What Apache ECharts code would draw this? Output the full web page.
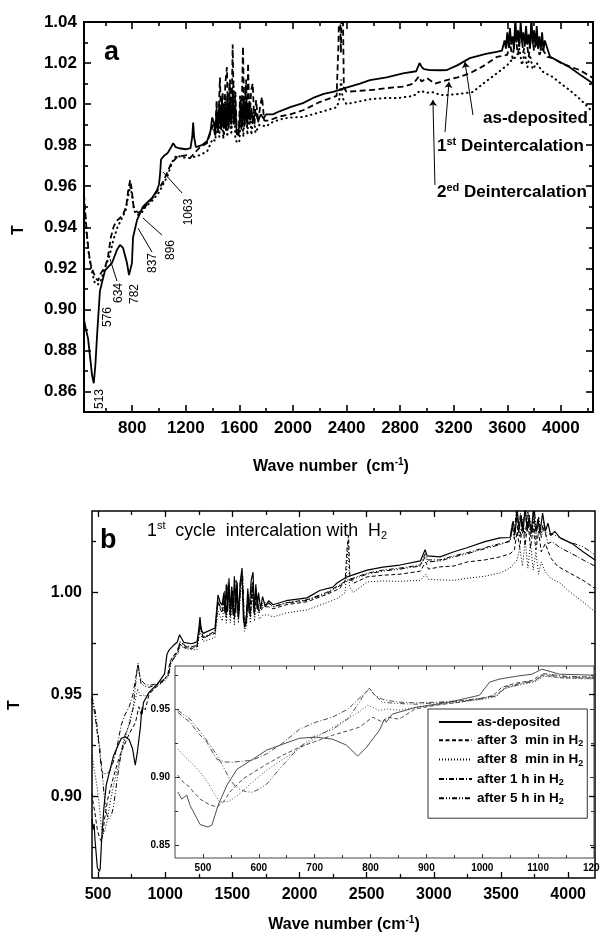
<!DOCTYPE html>
<html><head><meta charset="utf-8">
<script src="https://cdn.jsdelivr.net/npm/echarts@6/dist/echarts.min.js"></script>
<style>html,body{margin:0;padding:0;background:#fff}#c{width:600px;height:936px}</style>
</head><body><div id="c"></div>
<script>
// ---------- Panel a data: [wave number, T] ----------
const aAsDeposited = [[440,0.895],[455,0.890],[470,0.886],[485,0.877],[500,0.868],[513,0.864],[525,0.873],[540,0.890],[559,0.909],[597,0.919],[649,0.9226],[686,0.929],[709,0.9314],[731,0.930],[761,0.9226],[776,0.9167],[785,0.917],[798,0.9226],[806,0.935],[836,0.9435],[880,0.950],[948,0.9543],[985,0.958],[1000,0.961],[1008,0.966],[1015,0.973],[1040,0.975],[1063,0.976],[1090,0.979],[1106,0.981],[1125,0.979],[1150,0.9785],[1200,0.978],[1235,0.9785],[1248,0.984],[1255,0.991],[1262,0.984],[1275,0.979],[1320,0.980],[1360,0.982],[1385,0.987],[1397,0.9935],[1410,0.991],
[1420,0.986],[1430,0.998],[1440,0.987],[1450,1.000],[1460,0.988],[1470,1.003],[1480,0.989],[1490,0.999],[1500,0.987],[1510,1.004],[1520,0.988],[1530,1.002],[1540,0.990],[1550,1.006],[1560,0.991],[1570,0.999],[1580,0.986],[1590,0.985],[1600,0.990],[1610,1.002],[1620,0.989],[1630,1.004],[1640,0.990],[1650,1.001],[1660,0.991],[1670,1.000],[1680,0.992],[1690,0.998],[1700,0.991],[1720,0.996],[1740,0.992],[1760,0.995],[1780,0.993],[1800,0.995],[1850,0.995],[1900,0.9965],[1980,0.9985],[2075,1.0005],[2150,1.003],[2230,1.005],[2300,1.006],[2400,1.008],[2500,1.010],[2575,1.0117],[2700,1.013],[2821,1.015],[2920,1.016],[2945,1.020],[2962,1.018],[2980,1.017],[3022,1.0166],[3100,1.0165],[3149,1.0166],[3230,1.019],[3320,1.0224],[3440,1.0245],[3520,1.0255],[3560,1.026],
[3580,1.031],[3590,1.027],[3600,1.035],[3610,1.028],[3620,1.037],[3630,1.029],[3640,1.033],[3650,1.027],[3660,1.042],[3670,1.030],[3680,1.036],[3690,1.028],[3700,1.040],[3710,1.030],[3720,1.035],[3730,1.028],[3740,1.038],[3750,1.029],[3760,1.034],[3770,1.027],[3780,1.043],[3790,1.029],[3800,1.036],[3810,1.028],[3820,1.038],[3830,1.027],[3840,1.033],[3850,1.026],[3860,1.035],[3870,1.026],[3880,1.031],[3900,1.027],[3920,1.023],[3980,1.021],[4066,1.018],[4150,1.014],[4240,1.010]];

const aFirstDeint = [[440,0.956],[450,0.947],[460,0.938],[475,0.928],[490,0.922],[510,0.918],[530,0.915],[545,0.914],[560,0.917],[580,0.919],[600,0.921],[620,0.926],[640,0.935],[660,0.940],[680,0.943],[700,0.944],[730,0.946],[755,0.950],[770,0.958],[785,0.963],[795,0.959],[810,0.950],[825,0.948],[850,0.947],[880,0.949],[910,0.951],[950,0.954],[990,0.958],[1030,0.962],[1060,0.9665],[1090,0.971],[1134,0.9742],[1209,0.9752],[1231,0.9737],[1306,0.979],[1358,0.981],[1396,0.9884],[1405,0.990],
[1420,0.984],[1430,1.002],[1440,0.986],[1455,1.013],[1465,0.987],[1475,1.006],[1485,0.985],[1495,1.010],[1507,1.018],[1517,0.988],[1530,1.012],[1540,0.988],[1550,1.029],[1560,0.990],[1570,1.006],[1582,0.984],[1595,0.985],[1605,1.004],[1615,0.987],[1627,1.028],[1637,0.989],[1650,1.012],[1658,0.989],[1665,1.020],[1675,0.990],[1688,1.007],[1700,1.010],[1712,0.990],[1725,1.002],[1740,0.991],[1755,0.999],[1769,1.0035],[1785,0.992],[1820,0.992],[1900,0.994],[1980,0.995],[2075,0.997],[2200,1.001],[2299,1.0034],[2326,1.004],[2340,1.03],[2348,1.06],[2358,1.025],[2368,1.07],[2380,1.008],[2400,1.006],[2500,1.0065],[2575,1.0068],[2700,1.0078],[2820,1.0085],[2900,1.010],[2940,1.0135],[2960,1.011],[3000,1.0127],[3060,1.010],[3149,1.0117],[3230,1.013],[3320,1.015],[3420,1.0185],[3522,1.023],[3600,1.024],
[3620,1.030],[3640,1.022],[3660,1.034],[3680,1.024],[3700,1.036],[3720,1.025],[3740,1.033],[3760,1.023],[3780,1.035],[3800,1.026],[3820,1.031],[3840,1.024],[3860,1.027],[3900,1.023],[3940,1.0224],[4000,1.020],[4080,1.018],[4141,1.0166],[4240,1.0127]];

const aSecondDeint = [[440,0.952],[455,0.940],[470,0.930],[485,0.923],[500,0.918],[520,0.913],[540,0.912],[560,0.913],[580,0.917],[600,0.921],[630,0.926],[660,0.934],[690,0.940],[720,0.944],[750,0.948],[770,0.955],[785,0.960],[800,0.955],[815,0.948],[840,0.946],[870,0.947],[900,0.950],[950,0.953],[1000,0.957],[1063,0.965],[1100,0.972],[1130,0.975],[1180,0.974],[1230,0.9737],[1300,0.975],[1360,0.977],[1400,0.983],
[1420,0.982],[1435,0.995],[1450,0.984],[1465,1.000],[1480,0.983],[1495,1.004],[1510,0.984],[1525,1.010],[1540,0.985],[1555,1.012],[1570,0.983],[1585,0.981],[1600,0.982],[1615,0.998],[1630,0.984],[1645,1.008],[1660,0.985],[1675,1.002],[1690,0.985],[1705,0.996],[1720,0.986],[1750,0.990],[1800,0.989],[1829,0.9907],[1900,0.9925],[1980,0.9935],[2075,0.9937],[2200,0.996],[2328,0.9985],[2345,1.002],[2360,1.012],[2370,1.003],[2400,1.000],[2575,1.0024],[2700,1.003],[2776,1.0029],[2900,1.004],[2950,1.0065],[3000,1.0055],[3037,1.0059],[3100,1.0045],[3149,1.0044],[3250,1.005],[3343,1.0059],[3420,1.010],[3522,1.015],[3600,1.019],[3640,1.022],[3670,1.023],
[3690,1.027],[3710,1.019],[3730,1.025],[3750,1.018],[3770,1.024],[3790,1.017],[3820,1.020],[3860,1.016],[3900,1.0145],[3940,1.0132],[4000,1.010],[4066,1.0068],[4150,1.002],[4240,0.996]];

// ---------- Panel b data: [wave number, T] ----------
const bAsDeposited = [[455,0.889],[462,0.8837],[471,0.8866],[477,0.879],[486,0.872],[495,0.865],[509,0.8632],[516,0.8646],[527,0.879],[543,0.894],[561,0.9057],[589,0.913],[614,0.9197],[643,0.9241],[673,0.9285],[703,0.9293],[732,0.9278],[757,0.9234],[777,0.9153],[793,0.9219],[816,0.9344],[825,0.9425],[828,0.9403],[839,0.9462],[882,0.9513],[941,0.955],[995,0.9601],[1013,0.9697],[1030,0.9719],[1060,0.974],[1089,0.9756],[1107,0.9793],[1138,0.9756],[1196,0.9749],[1237,0.9758],[1250,0.982],[1259,0.988],[1268,0.982],[1282,0.980],[1371,0.9826],[1393,0.9988],[1410,0.995],
[1423,0.994],[1435,0.999],[1445,0.990],[1455,1.004],[1465,0.991],[1475,1.007],[1485,0.990],[1495,1.003],[1505,0.989],[1515,1.008],[1525,0.990],[1535,1.005],[1545,0.988],[1560,1.006],[1572,1.012],[1582,0.987],[1594,0.983],[1605,0.988],[1615,1.002],[1625,0.990],[1640,1.006],[1654,1.010],[1664,0.991],[1675,1.004],[1685,0.992],[1695,1.000],[1710,0.992],[1725,0.998],[1745,0.993],[1770,0.996],[1803,0.994],[1900,0.996],[2056,0.9974],[2150,1.001],[2249,1.0027],[2279,1.0047],[2354,1.0077],[2503,1.011],[2620,1.0125],[2748,1.0135],[2900,1.0155],[2935,1.021],[2950,1.018],[3046,1.0175],[3150,1.020],[3247,1.022],[3380,1.025],[3493,1.0268],[3568,1.027],
[3590,1.035],[3605,1.029],[3620,1.041],[3635,1.031],[3650,1.038],[3665,1.030],[3680,1.042],[3695,1.031],[3710,1.037],[3725,1.029],[3740,1.040],[3760,1.030],[3775,1.036],[3790,1.029],[3810,1.039],[3830,1.030],[3850,1.034],[3870,1.028],[3900,1.030],[3940,1.0268],[4030,1.024],[4111,1.020],[4200,1.016]];

const b3min = [[455,0.9013],[465,0.896],[475,0.893],[485,0.888],[495,0.8837],[510,0.880],[525,0.8778],[537,0.882],[548,0.8888],[571,0.8984],[614,0.9094],[643,0.916],[673,0.9219],[732,0.9307],[760,0.934],[780,0.9366],[804,0.944],[821,0.9403],[830,0.944],[851,0.9425],[880,0.950],[920,0.953],[960,0.955],[1000,0.958],[1020,0.960],[1035,0.966],[1060,0.969],[1089,0.971],[1105,0.975],[1140,0.973],[1196,0.9725],[1237,0.9735],[1259,0.984],[1282,0.978],[1371,0.980],[1393,0.995],[1410,0.992],
[1423,0.990],[1440,0.998],[1455,0.988],[1470,1.003],[1485,0.988],[1500,1.001],[1515,0.987],[1530,1.004],[1545,0.987],[1560,1.003],[1575,1.008],[1590,0.983],[1605,0.985],[1620,0.999],[1635,0.988],[1650,1.005],[1665,0.989],[1680,0.999],[1700,0.990],[1730,0.993],[1770,0.993],[1803,0.992],[1900,0.994],[2056,0.9955],[2200,0.999],[2300,1.002],[2340,1.006],[2354,1.022],[2365,1.028],[2375,1.008],[2400,1.0045],[2503,1.0077],[2620,1.0085],[2748,1.009],[2900,1.0105],[2940,1.015],[2960,1.0115],[3046,1.0126],[3150,1.013],[3247,1.015],[3380,1.016],[3493,1.0175],[3568,1.019],[3600,1.021],
[3620,1.030],[3640,1.022],[3660,1.034],[3680,1.023],[3700,1.035],[3720,1.022],[3740,1.032],[3760,1.021],[3780,1.030],[3800,1.020],[3830,1.024],[3870,1.017],[3920,1.013],[4000,1.010],[4111,1.006],[4200,1.002]];

const b8min = [[455,0.9204],[470,0.914],[485,0.908],[495,0.9035],[510,0.895],[520,0.888],[530,0.8815],[545,0.882],[553,0.8837],[570,0.889],[584,0.8947],[614,0.905],[643,0.913],[673,0.921],[700,0.928],[733,0.9366],[760,0.943],[780,0.948],[795,0.9528],[805,0.951],[815,0.949],[830,0.950],[851,0.9491],[880,0.951],[920,0.953],[960,0.955],[1000,0.957],[1025,0.959],[1040,0.965],[1070,0.968],[1095,0.970],[1110,0.974],[1150,0.9725],[1196,0.972],[1237,0.972],[1259,0.981],[1282,0.976],[1371,0.978],[1393,0.991],[1410,0.988],
[1425,0.986],[1440,0.994],[1455,0.985],[1470,0.999],[1485,0.985],[1500,0.997],[1515,0.984],[1530,1.000],[1545,0.985],[1560,0.999],[1575,1.004],[1590,0.981],[1605,0.983],[1620,0.995],[1635,0.985],[1650,1.001],[1665,0.986],[1680,0.995],[1700,0.987],[1730,0.989],[1770,0.989],[1803,0.988],[1900,0.990],[2056,0.9915],[2200,0.995],[2279,0.997],[2340,1.000],[2354,1.015],[2362,1.025],[2372,1.003],[2400,1.000],[2503,1.0052],[2620,1.0057],[2748,1.0055],[2900,1.006],[2940,1.009],[2960,1.0065],[3046,1.0062],[3150,1.006],[3247,1.007],[3380,1.008],[3493,1.0096],[3568,1.012],[3620,1.016],
[3640,1.022],[3660,1.013],[3680,1.026],[3700,1.012],[3720,1.024],[3740,1.011],[3760,1.020],[3780,1.009],[3800,1.015],[3830,1.010],[3870,1.007],[3940,1.0047],[4000,1.001],[4111,0.9954],[4200,0.9905]];

const b1h = [[455,0.9476],[465,0.944],[477,0.9403],[490,0.933],[507,0.9256],[516,0.919],[525,0.913],[540,0.911],[553,0.9109],[570,0.9115],[589,0.9124],[614,0.917],[643,0.925],[673,0.9351],[700,0.940],[732,0.944],[760,0.950],[780,0.958],[798,0.9645],[808,0.960],[821,0.9572],[835,0.956],[851,0.955],[880,0.9545],[920,0.955],[960,0.956],[1000,0.958],[1025,0.960],[1040,0.966],[1070,0.969],[1095,0.971],[1110,0.976],[1150,0.974],[1196,0.9735],[1237,0.974],[1259,0.985],[1282,0.978],[1371,0.981],[1393,0.996],[1410,0.993],
[1423,0.992],[1438,1.000],[1453,0.989],[1468,1.005],[1483,0.989],[1498,1.002],[1513,0.988],[1528,1.006],[1543,0.988],[1558,1.005],[1572,1.010],[1586,0.985],[1600,0.986],[1615,1.000],[1630,0.989],[1645,1.004],[1660,0.990],[1675,1.002],[1695,0.991],[1725,0.995],[1770,0.995],[1803,0.993],[1900,0.995],[2056,0.9965],[2200,1.000],[2279,1.003],[2354,1.006],[2503,1.0095],[2620,1.011],[2748,1.012],[2900,1.0135],[2935,1.019],[2955,1.016],[3046,1.016],[3150,1.018],[3247,1.0195],[3380,1.022],[3493,1.024],[3568,1.025],
[3585,1.032],[3600,1.026],[3620,1.038],[3640,1.027],[3660,1.036],[3680,1.028],[3700,1.040],[3720,1.027],[3740,1.035],[3760,1.026],[3780,1.037],[3800,1.027],[3820,1.032],[3850,1.024],[3880,1.025],[3940,1.022],[4030,1.019],[4111,1.016],[4200,1.013]];

const b5h = [[455,0.9491],[465,0.946],[477,0.9425],[490,0.936],[500,0.9307],[512,0.924],[525,0.916],[537,0.907],[548,0.8984],[558,0.893],[566,0.891],[578,0.889],[589,0.8888],[600,0.891],[614,0.8947],[643,0.9087],[673,0.922],[700,0.930],[733,0.9351],[760,0.943],[780,0.955],[790,0.962],[798,0.9653],[808,0.960],[821,0.955],[835,0.9545],[851,0.954],[880,0.9535],[920,0.9545],[960,0.9555],[1000,0.9575],[1025,0.9595],[1040,0.965],[1070,0.9685],[1095,0.9705],[1110,0.9755],[1150,0.9735],[1196,0.973],[1237,0.9735],[1259,0.9845],[1282,0.9775],[1371,0.9805],[1393,0.9955],[1410,0.9925],
[1428,0.991],[1443,1.001],[1458,0.989],[1473,1.004],[1488,0.989],[1503,1.001],[1518,0.988],[1533,1.005],[1548,0.988],[1563,1.004],[1577,1.009],[1590,0.984],[1603,0.986],[1618,0.999],[1633,0.989],[1648,1.003],[1663,0.990],[1678,1.001],[1698,0.991],[1728,0.994],[1770,0.9945],[1803,0.993],[1900,0.9948],[2056,0.9962],[2200,0.9995],[2279,1.0025],[2354,1.0055],[2503,1.009],[2620,1.0105],[2748,1.0115],[2900,1.013],[2935,1.0175],[2955,1.015],[3046,1.0155],[3150,1.0175],[3247,1.019],[3380,1.0215],[3493,1.0235],[3568,1.0255],
[3583,1.034],[3598,1.027],[3613,1.040],[3628,1.028],[3645,1.039],[3662,1.029],[3678,1.042],[3695,1.030],[3712,1.038],[3730,1.029],[3748,1.041],[3765,1.030],[3782,1.037],[3800,1.029],[3818,1.035],[3840,1.028],[3870,1.029],[3920,1.0275],[4000,1.025],[4111,1.0225],[4200,1.0185]];

// ---------- tick labels ----------
const aXLabels = [800,1200,1600,2000,2400,2800,3200,3600,4000];
const aXMinor = [600,1000,1400,1800,2200,2600,3000,3400,3800,4200];
const aYLabels = [0.86,0.88,0.90,0.92,0.94,0.96,0.98,1.00,1.02,1.04];
const aYMinor = [0.87,0.89,0.91,0.93,0.95,0.97,0.99,1.01,1.03];
const bXLabels = [500,1000,1500,2000,2500,3000,3500,4000];
const bXMinor = [750,1250,1750,2250,2750,3250,3750];
const bYLabels = [0.90,0.95,1.00];
const bYMinor = [0.875,0.925,0.975,1.025];
const inXLabels = [500,600,700,800,900,1000,1100,1200];
const inXMinor = [550,650,750,850,950,1050,1150];
const inYLabels = [0.85,0.90,0.95];
const inYMinor = [0.875,0.925,0.975];

// ---------- annotations (data coordinates) ----------
const peakLeaders = [[[634,0.9245],[686,0.9138]],[[843,0.9396],[948,0.9279]],[[880,0.9445],[1022,0.9362]],[[1030,0.9669],[1172,0.9567]]];
const curveArrows = [[[3344,0.9947],[3284,1.0205]],[[3135,0.9864],[3165,1.0108]],[[3060,0.9606],[3045,1.002]]];
const peakLabels = ['513','576','634','782','837','896','1063'];

const FONT = "'Liberation Sans', Arial, Helvetica, sans-serif";
const xAxes = [], yAxes = [];

function frame(gridIndex, xr, yr, st) {
  const xi = xAxes.length, yi = yAxes.length;
  const fmtY = v => v.toFixed(2);
  const common = (pos, range, ticks, len, labels, fmt, margin, fs) => ({
    type: 'value', gridIndex, position: pos, min: range.min, max: range.max, z: st.z,
    axisLine: { show: false, onZero: false },
    axisTick: { show: ticks.length > 0, inside: true, length: len, customValues: ticks,
      lineStyle: { color: st.color, width: st.tickW } },
    axisLabel: labels ? { show: true, customValues: labels, margin, formatter: fmt,
      color: '#000', fontFamily: FONT, fontWeight: 'bold', fontSize: fs } : { show: false },
    splitLine: { show: false }, minorTick: { show: false }
  });
  xAxes.push(common('bottom', xr, xr.major, st.majorLen, xr.labels, v => String(v), st.xMargin, st.fs));
  xAxes.push(common('bottom', xr, xr.minor, st.minorLen, null));
  xAxes.push(common('top', xr, xr.major, st.majorLen, null));
  xAxes.push(common('top', xr, xr.minor, st.minorLen, null));
  yAxes.push(common('left', yr, yr.major, st.majorLen, yr.labels, fmtY, st.yMargin, st.fs));
  yAxes.push(common('left', yr, yr.minor, st.minorLen, null));
  yAxes.push(common('right', yr, yr.major, st.majorLen, null));
  yAxes.push(common('right', yr, yr.minor, st.minorLen, null));
  return { xi, yi };
}

const A = frame(0, { min: 440, max: 4240, major: aXLabels, minor: aXMinor, labels: aXLabels },
  { min: 0.85, max: 1.04, major: aYLabels.filter(v => v < 1.04), minor: aYMinor, labels: aYLabels },
  { z: 2, color: '#000', tickW: 1.6, majorLen: 7, minorLen: 4, xMargin: 8, yMargin: 7, fs: 17 });
const B = frame(1, { min: 455, max: 4200, major: bXLabels, minor: bXMinor, labels: bXLabels },
  { min: 0.86, max: 1.04, major: bYLabels, minor: bYMinor, labels: bYLabels },
  { z: 10, color: '#000', tickW: 1.3, majorLen: 6, minorLen: 4, xMargin: 9, yMargin: 10, fs: 16 });
const C = frame(2, { min: 450, max: 1200, major: inXLabels, minor: inXMinor, labels: inXLabels },
  { min: 0.8404, max: 0.9816, major: inYLabels, minor: inYMinor, labels: inYLabels },
  { z: 5, color: '#333', tickW: 1, majorLen: 4, minorLen: 3, xMargin: 5, yMargin: 5, fs: 10 });

const names = ['as-deposited', 'after 3  min in H2', 'after 8  min in H2', 'after 1 h in H2', 'after 5 h in H2'];
const bData = [bAsDeposited, b3min, b8min, b1h, b5h];
const dashes = ['solid', [4, 2.5], [1, 2], [5, 2, 1, 2], [5, 2, 1, 2, 1, 2]];

const series = [];
series.push({ type: 'line', name: 'a-as', xAxisIndex: A.xi, yAxisIndex: A.yi, data: aAsDeposited, symbol: 'none', z: 3,
  lineStyle: { color: '#000', width: 1.8 },
  markLine: { silent: true, animation: false, symbol: ['none', 'none'], label: { show: false },
    lineStyle: { color: '#000', width: 1, type: 'solid' },
    data: peakLeaders.map(p => [{ coord: p[0] }, { coord: p[1] }]) } });
series.push({ type: 'line', name: 'a-1st', xAxisIndex: A.xi, yAxisIndex: A.yi, data: aFirstDeint, symbol: 'none', z: 3,
  lineStyle: { color: '#000', width: 1.8, type: [6, 3.5] },
  markLine: { silent: true, animation: false, symbol: ['none', 'arrow'], symbolSize: 6, label: { show: false },
    lineStyle: { color: '#000', width: 1, type: 'solid' },
    data: curveArrows.map(p => [{ coord: p[0] }, { coord: p[1] }]) } });
series.push({ type: 'line', name: 'a-2ed', xAxisIndex: A.xi, yAxisIndex: A.yi, data: aSecondDeint, symbol: 'none', z: 3,
  lineStyle: { color: '#000', width: 2, type: [0.5, 4.5], cap: 'round' } });
bData.forEach((d, i) => series.push({ type: 'line', name: names[i], xAxisIndex: B.xi, yAxisIndex: B.yi, data: d,
  symbol: 'none', z: 2, itemStyle: { color: '#000' }, lineStyle: { color: '#000', width: i === 0 ? 1.2 : 1, type: dashes[i] } }));
bData.forEach((d, i) => series.push({ type: 'line', name: names[i], xAxisIndex: C.xi, yAxisIndex: C.yi, data: d,
  symbol: 'none', z: 4, itemStyle: { color: '#000' }, lineStyle: { color: '#3a3a3a', width: 0.9, type: dashes[i] } }));

const txt = (x, y, text, o = {}) => ({
  type: 'text', x, y, z: 50, rotation: o.rot || 0, silent: true,
  style: { text, fill: '#000', fontFamily: FONT, fontSize: o.fs || 17, fontWeight: o.fw || 'bold',
    align: o.align || 'left', verticalAlign: 'middle', textAlign: o.align || 'left', textVerticalAlign: 'middle',
    rich: o.rich }
});
const richOf = (fs, fw) => ({
  b: { fontFamily: FONT, fontSize: fs, fontWeight: fw, fill: '#000', lineHeight: fs + 3 },
  sup: { fontFamily: FONT, fontSize: Math.round(fs * 0.62), fontWeight: fw, fill: '#000', verticalAlign: 'top', lineHeight: Math.round(fs * 0.62) + 1 },
  sub: { fontFamily: FONT, fontSize: Math.round(fs * 0.62), fontWeight: fw, fill: '#000', verticalAlign: 'bottom', lineHeight: Math.round(fs * 0.62) + 1 }
});

const peakPos = [[100, 399], [108, 317], [119, 293], [135, 294], [153, 263], [171, 250], [189, 212]];
const graphics = [
  txt(104, 53, 'a', { fs: 27 }),
  txt(483, 118, 'as-deposited'),
  txt(437, 146, '{b|1}{sup|st}{b| Deintercalation}', { rich: richOf(17, 'bold') }),
  txt(437, 192, '{b|2}{sup|ed}{b| Deintercalation}', { rich: richOf(17, 'bold') }),
  txt(331, 467, '{b|Wave number  (cm}{sup|-1}{b|)}', { align: 'center', rich: richOf(16, 'bold') }),
  txt(19, 230, 'T', { fs: 16, rot: Math.PI / 2, align: 'center' }),
  txt(100, 541, 'b', { fs: 27 }),
  txt(147, 531, '{b|1}{sup|st}{b|  cycle  intercalation with  H}{sub|2}', { rich: richOf(17.8, 'normal') }),
  txt(344, 925, '{b|Wave number (cm}{sup|-1}{b|)}', { align: 'center', rich: richOf(16, 'bold') }),
  txt(15, 705, 'T', { fs: 16, rot: Math.PI / 2, align: 'center' })
];
peakLabels.forEach((t, i) => graphics.push(txt(peakPos[i][0], peakPos[i][1], t, { fs: 12, fw: 'normal', rot: Math.PI / 2, align: 'center' })));

const chart = echarts.init(document.getElementById('c'), null, { renderer: 'canvas' });
chart.setOption({
  animation: false,
  backgroundColor: '#fff',
  grid: [
    { left: 84, top: 22, width: 509, height: 390, show: true, borderColor: '#000', borderWidth: 2, backgroundColor: 'rgba(0,0,0,0)', outerBoundsMode: 'none', z: 0 },
    { left: 92, top: 511, width: 503, height: 367, show: true, borderColor: '#000', borderWidth: 1.5, backgroundColor: 'rgba(0,0,0,0)', outerBoundsMode: 'none', z: 0 },
    { left: 175, top: 666, width: 419, height: 192, show: true, borderColor: '#444', borderWidth: 1, backgroundColor: '#fff', outerBoundsMode: 'none', z: 3 }
  ],
  xAxis: xAxes,
  yAxis: yAxes,
  legend: {
    data: names, orient: 'vertical', left: 428, top: 709, z: 20,
    itemWidth: 33, itemHeight: 14, itemGap: 4.3, padding: [6, 4, 12, 10],
    borderColor: '#333', borderWidth: 1, backgroundColor: '#fff', selectedMode: false,
    itemStyle: { opacity: 0, borderWidth: 0 },
    formatter: n => n.endsWith('H2') ? '{n|' + n.slice(0, -1) + '}{s|2}' : '{n|' + n + '}',
    textStyle: { color: '#000', fontFamily: FONT, fontWeight: 'bold', fontSize: 13.5,
      rich: { n: { fontFamily: FONT, fontWeight: 'bold', fontSize: 13.5, color: '#000', lineHeight: 16 },
              s: { fontFamily: FONT, fontWeight: 'bold', fontSize: 9, color: '#000', verticalAlign: 'bottom', lineHeight: 10 } } }
  },
  graphic: graphics,
  series
});
</script></body></html>
